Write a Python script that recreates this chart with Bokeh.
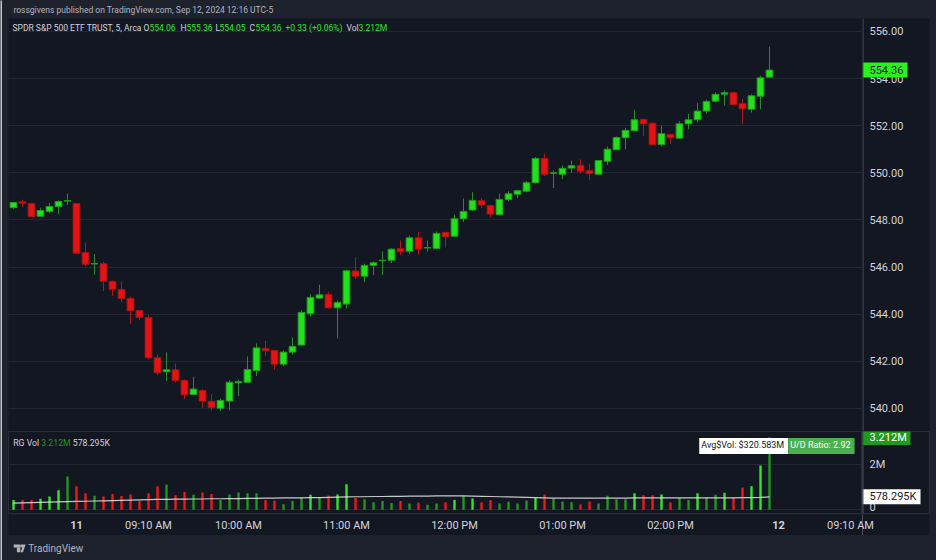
from bokeh.plotting import figure
from bokeh.models import ColumnDataSource, Range1d, FixedTicker, Label, Grid, Span
from bokeh.layouts import column, row
from bokeh.core.properties import value
from bokeh.embed import file_html
from bokeh.resources import INLINE

# ---------------- data (SPY, 5-minute bars) ----------------
opens = [548.52, 548.77, 548.70, 548.16, 548.36, 548.57, 548.80,
         548.70, 546.61, 546.13, 546.14, 545.39, 545.05, 544.67, 544.15, 543.86, 542.15,
         541.56, 541.64, 541.19, 540.59, 540.76, 540.30, 540.01, 540.31, 541.09, 541.11,
         541.61, 542.55, 542.46, 541.88, 542.39, 542.69, 544.02, 544.68, 544.84, 544.27,
         544.43, 545.83, 545.61, 546.07, 546.27, 546.29, 546.78, 546.67, 547.24, 546.81,
         546.79, 547.47, 547.31, 548.05, 548.42, 548.81, 548.61, 548.22, 548.87, 549.09,
         549.22, 549.58, 550.61, 549.98, 549.94, 550.20, 550.31, 550.09, 549.94, 550.49,
         550.98, 551.49, 551.79, 552.26, 552.10, 551.20, 551.63, 551.47, 552.08, 552.25,
         552.62, 553.04, 553.34, 553.40, 552.93, 552.70, 553.25, 554.06]
highs = [548.76, 548.86, 548.72, 548.52, 548.73, 548.83, 549.12,
         548.72, 547.04, 546.55, 546.22, 545.43, 545.39, 544.75, 544.19, 543.96, 542.29,
         542.38, 541.91, 541.23, 541.34, 540.83, 540.62, 540.41, 541.19, 541.23, 542.21,
         542.76, 542.87, 542.48, 542.46, 543.01, 544.16, 544.84, 545.25, 544.95, 544.58,
         545.89, 546.42, 546.14, 546.24, 546.66, 546.80, 547.13, 547.34, 547.48, 547.13,
         547.51, 547.50, 548.23, 548.91, 549.18, 548.92, 548.61, 549.11, 549.22, 549.25,
         549.65, 550.67, 550.81, 550.10, 550.31, 550.52, 550.57, 550.38, 550.54, 551.12,
         551.54, 551.91, 552.68, 552.31, 552.15, 552.00, 551.65, 552.19, 552.51, 552.97,
         553.11, 553.41, 553.50, 553.42, 553.14, 553.33, 554.12, 555.36]
lows = [548.46, 548.54, 548.12, 548.14, 548.29, 548.25, 548.63,
        546.55, 546.04, 545.67, 544.98, 544.78, 544.50, 543.58, 543.75, 542.09, 541.41,
        541.16, 541.10, 540.41, 540.57, 540.03, 539.91, 539.91, 539.91, 540.52, 541.09,
        541.37, 542.22, 541.64, 541.80, 542.29, 542.66, 543.90, 544.66, 544.24, 542.97,
        544.24, 545.49, 545.35, 545.66, 545.66, 546.17, 546.51, 546.55, 546.51, 546.66,
        546.75, 546.83, 547.28, 547.91, 548.39, 548.52, 548.11, 548.19, 548.80, 548.92,
        549.17, 549.54, 549.86, 549.35, 549.73, 550.00, 549.96, 549.68, 549.92, 550.33,
        550.96, 550.99, 551.77, 551.57, 551.16, 551.13, 551.22, 551.45, 551.85, 552.14,
        552.52, 552.99, 552.85, 552.88, 552.07, 552.56, 552.69, 554.05]
closes = [548.74, 548.71, 548.15, 548.40, 548.57, 548.78, 548.82,
          546.59, 546.12, 546.15, 545.40, 545.06, 544.67, 544.15, 543.87, 542.15, 541.51,
          541.64, 541.19, 540.58, 540.82, 540.31, 540.04, 540.34, 541.11, 541.14, 541.65,
          542.57, 542.45, 541.88, 542.39, 542.63, 544.07, 544.71, 544.82, 544.27, 544.50,
          545.84, 545.61, 546.07, 546.18, 546.29, 546.76, 546.65, 547.24, 546.76, 546.83,
          547.43, 547.29, 548.05, 548.36, 548.83, 548.63, 548.25, 548.87, 549.11, 549.24,
          549.58, 550.61, 549.94, 550.00, 550.19, 550.30, 550.07, 549.97, 550.52, 551.00,
          551.50, 551.80, 552.25, 552.08, 551.19, 551.66, 551.49, 552.08, 552.25, 552.62,
          553.03, 553.33, 553.40, 552.90, 552.72, 553.27, 554.03, 554.36]
volumes_m = [0.44, 0.43, 0.44, 0.49, 0.59, 0.87, 1.48,
             1.05, 0.74, 0.62, 0.59, 0.70, 0.61, 0.68, 0.40, 0.73, 1.05,
             1.11, 0.65, 0.79, 0.67, 0.77, 0.70, 0.43, 0.68, 0.77, 0.74,
             0.73, 0.43, 0.41, 0.25, 0.39, 0.53, 0.67, 0.55, 0.64, 0.68,
             1.14, 0.52, 0.47, 0.34, 0.39, 0.30, 0.39, 0.28, 0.31, 0.22,
             0.28, 0.33, 0.43, 0.62, 0.50, 0.33, 0.44, 0.28, 0.36, 0.28,
             0.41, 0.52, 0.68, 0.50, 0.37, 0.33, 0.24, 0.37, 0.28, 0.62,
             0.47, 0.47, 0.73, 0.65, 0.65, 0.68, 0.33, 0.52, 0.43, 0.73,
             0.53, 0.67, 0.76, 0.55, 0.99, 1.05, 1.97, 3.212]
# u = rising green, g = green, d = red
volume_kind = ["u", "d", "d", "u", "u", "u", "g",
               "d", "d", "g", "d", "d", "d", "d", "d", "d", "d",
               "g", "d", "d", "g", "d", "d", "g", "g", "g", "g",
               "g", "d", "d", "g", "g", "g", "u", "g", "d", "u",
               "u", "d", "g", "g", "g", "g", "d", "g", "d", "g",
               "g", "d", "u", "g", "u", "d", "d", "g", "g", "g",
               "g", "u", "d", "g", "g", "g", "d", "d", "g", "g",
               "g", "g", "u", "d", "d", "u", "d", "g", "g", "u",
               "g", "g", "u", "d", "d", "u", "u", "g"]
volume_avg_m = [0.30, 0.31, 0.32, 0.33, 0.34, 0.35, 0.36, 0.37, 0.38, 0.39,
                0.40, 0.41, 0.42, 0.43, 0.44, 0.45, 0.46, 0.46, 0.47, 0.47,
                0.48, 0.48, 0.49, 0.49, 0.50, 0.50, 0.51, 0.51, 0.52, 0.52,
                0.53, 0.53, 0.53, 0.54, 0.54, 0.55, 0.56, 0.57, 0.58, 0.58,
                0.59, 0.59, 0.60, 0.60, 0.61, 0.61, 0.61, 0.62, 0.62, 0.62,
                0.62, 0.61, 0.60, 0.59, 0.58, 0.57, 0.56, 0.55, 0.54, 0.53,
                0.52, 0.52, 0.52, 0.52, 0.52, 0.52, 0.52, 0.52, 0.52, 0.53,
                0.53, 0.53, 0.53, 0.53, 0.53, 0.53, 0.53, 0.53, 0.53, 0.53,
                0.53, 0.54, 0.54, 0.55, 0.578]

price_ticks = [540, 542, 544, 546, 548, 550, 552, 554, 556]
price_tick_labels = ["540.00", "542.00", "544.00", "546.00", "548.00",
                     "550.00", "552.00", "554.00", "556.00"]
vol_ticks = [0, 2]
vol_tick_labels = ["0", "2M"]
# bar index 0 = 08:30 (UTC-5) on Sep 11
time_ticks = [0, 8, 18, 30, 42, 54, 66, 78, 86]
time_tick_labels = ["11", "09:10 AM", "10:00 AM", "11:00 AM", "12:00 PM",
                    "01:00 PM", "02:00 PM", "12", "09:10 AM"]
day_ticks = [0, 78]

header_text = "rossgivens published on TradingView.com, Sep 12, 2024 12:16 UTC-5"
symbol_text = "SPDR S&P 500 ETF TRUST, 5, Arca"
avg_dollar_vol_text = "Avg$Vol: $320.583M"
ud_ratio_text = "U/D Ratio: 2.92"
vol_avg_text = "578.295K"
change_text = "+0.33 (+0.06%)"

# ---------------- styling ----------------
BG = "#131722"
OUTER = "#1e222d"
GRID = "#232733"
SEP = "#2a2e39"
AXIS = "#50535e"
TXT = "#d1d4dc"
UP = "#24e01c"
UP_EDGE = "#1c9c1c"
UP_WICK = "#2a8a2a"
DN = "#e51414"
DN_EDGE = "#b01212"
DN_WICK = "#a81a1a"
VOL_COL = {"u": "#33e82a", "g": "#1f9a1f", "d": "#f01818"}
LEGEND_GREEN = "#2ee62e"
TAG_GREEN = "#2af21c"
VOL_TAG = "#1f9a1f"
FONT = "Roboto"

n = len(opens)
xs = list(range(-7, n - 7))
is_up = [c >= o for o, c in zip(opens, closes)]
src = ColumnDataSource(dict(
    x=xs, open=opens, high=highs, low=lows, close=closes,
    top=[max(o, c) for o, c in zip(opens, closes)],
    bottom=[min(o, c) for o, c in zip(opens, closes)],
    body=[UP if u else DN for u in is_up],
    edge=[UP_EDGE if u else DN_EDGE for u in is_up],
    wick=[UP_WICK if u else DN_WICK for u in is_up],
    vol=volumes_m,
    vcol=[VOL_COL[k] for k in volume_kind],
    ma=volume_avg_m,
))

EDGE_W = 2        # light window edge on the far left
MAIN_W = 860      # includes 6px outer border on the left -> frame from x=8 to x=862
STRIP_W = 74      # price-scale area (67) + 7px outer border
FULL_W = 936 - EDGE_W
xr = Range1d(-7.556, 87.333)
price_range = Range1d(539.02, 556.55)
vol_range = Range1d(-0.209, 3.48)


def make_fig(width, height, x_range, y_range, left=0, right=0, bg=BG, border=OUTER):
    f = figure(width=width, height=height, x_range=x_range, y_range=y_range,
               output_backend="svg", toolbar_location=None, title=None,
               x_axis_location=None, y_axis_location=None,
               min_border_left=left, min_border_right=right,
               min_border_top=0, min_border_bottom=0)
    f.grid.grid_line_color = None
    f.background_fill_color = bg
    f.border_fill_color = border
    f.outline_line_color = None
    return f


def txt(f, xs_, ys_, texts, color=TXT, size="11px", align="left", style="normal", dy=0):
    f.text(x=xs_, y=ys_, text=texts, text_font=value(FONT), text_font_size=size,
           text_color=color, text_align=align, text_baseline="middle",
           text_font_style=style, y_offset=dy)


# ---------------- left window edge ----------------
edge = make_fig(EDGE_W, 560, Range1d(0, 1), Range1d(0, 1), bg="#c9cacd", border="#c9cacd")

# ---------------- header ----------------
hdr = make_fig(FULL_W, 18, Range1d(EDGE_W, 936), Range1d(0, 18), bg=OUTER)
txt(hdr, [7], [8.5], [header_text], color="#b2b5be", size="8.5px")

# ---------------- price pane ----------------
p = make_fig(MAIN_W, 413, xr, price_range, left=6)
p.add_layout(Grid(dimension=1, ticker=FixedTicker(ticks=price_ticks), grid_line_color=GRID))
p.segment(x0="x", y0="high", x1="x", y1="low", line_color="wick", line_width=1, source=src)
p.vbar(x="x", width=0.75, top="top", bottom="bottom", fill_color="body",
       line_color="edge", line_width=1, source=src)

leg_y = 404
legend_parts = [
    (4, symbol_text, TXT),
    (135, "O", TXT), (141, f"{opens[-1]:.2f}", LEGEND_GREEN),
    (172, "H", TXT), (178, f"{highs[-1]:.2f}", LEGEND_GREEN),
    (207, "L", TXT), (211, f"{lows[-1]:.2f}", LEGEND_GREEN),
    (241, "C", TXT), (247, f"{closes[-1]:.2f}", LEGEND_GREEN),
    (277, change_text, LEGEND_GREEN),
    (338, "Vol", TXT), (350, f"{volumes_m[-1]:.3f}M", LEGEND_GREEN),
]
for lx, t, c in legend_parts:
    p.add_layout(Label(x=lx, y=leg_y, x_units="screen", y_units="screen", text=t,
                       text_font=FONT, text_font_size="8.5px", text_color=c,
                       text_baseline="middle"))

# price scale strip
ps = make_fig(STRIP_W, 413, Range1d(0, 67), price_range, right=7)
txt(ps, [7] * len(price_ticks), price_ticks, price_tick_labels)
ps.rect(x=[22.5], y=[closes[-1]], width=45, height=15, height_units="screen",
        fill_color=TAG_GREEN, line_color=None)
txt(ps, [7], [closes[-1]], [f"{closes[-1]:.2f}"], color="#131722")
ps.add_layout(Span(location=0.5, dimension="height", line_color=AXIS, line_width=1))

# ---------------- volume pane ----------------
v = make_fig(MAIN_W, 83, xr, vol_range, left=6)
v.outline_line_color = SEP
v.add_layout(Grid(dimension=1, ticker=FixedTicker(ticks=vol_ticks), grid_line_color=GRID))
v.vbar(x="x", width=0.26, top="vol", bottom=0, fill_color="vcol", line_color=None, source=src)
v.line(x="x", y="ma", line_color="#e8e8e8", line_alpha=0.85, line_width=1.2, source=src)

vleg_y = 72
for lx, t, c in [(4.7, "RG Vol", TXT), (32.7, f"{volumes_m[-1]:.3f}M", VOL_TAG),
                 (64.3, vol_avg_text, TXT)]:
    v.add_layout(Label(x=lx, y=vleg_y, x_units="screen", y_units="screen", text=t,
                       text_font=FONT, text_font_size="8.7px", text_color=c,
                       text_baseline="middle"))

# info boxes, anchored at their common edge
v.add_layout(Label(x=779.7, y=68.5, x_units="screen", y_units="screen",
                   text=avg_dollar_vol_text, text_font=FONT, text_font_size="9px",
                   text_color="#131722", text_align="right", text_baseline="middle",
                   background_fill_color="#ffffff", padding=(2, 4, 2, 4)))
v.add_layout(Label(x=779.7, y=68.5, x_units="screen", y_units="screen",
                   text=ud_ratio_text, text_font=FONT, text_font_size="9px",
                   text_color="#ffffff", text_align="left", text_baseline="middle",
                   background_fill_color="#4caf50", padding=(2, 4, 2, 4)))

# volume scale strip
vs = make_fig(STRIP_W, 83, Range1d(0, 67), vol_range, right=7)
vs.outline_line_color = SEP
txt(vs, [7], [vol_ticks[1]], [vol_tick_labels[1]])
txt(vs, [7], [vol_ticks[0]], [vol_tick_labels[0]], dy=-2.5)
vs.rect(x=[24], y=[volumes_m[-1]], width=48, height=15, height_units="screen",
        fill_color=VOL_TAG, line_color=None)
txt(vs, [7], [volumes_m[-1]], [f"{volumes_m[-1]:.3f}M"], color="#ffffff")
vs.rect(x=[29], y=[volume_avg_m[-1]], width=58, height=15, height_units="screen",
        fill_color="#ffffff", line_color=None)
txt(vs, [7], [volume_avg_m[-1]], [vol_avg_text], color="#131722")
vs.add_layout(Span(location=0.5, dimension="height", line_color=AXIS, line_width=1))

# ---------------- time scale strip (full width, same bar scale) ----------------
ts = make_fig(FULL_W, 21, Range1d(-7.556, 94.778), Range1d(0, 21), left=6, right=7)
ts.segment(x0=[87.333], y0=[0], x1=[87.333], y1=[21], line_color=AXIS, line_width=1)
norm = [(t, l) for t, l in zip(time_ticks, time_tick_labels) if t not in day_ticks]
bold = [(t, l) for t, l in zip(time_ticks, time_tick_labels) if t in day_ticks]
txt(ts, [t for t, _ in norm], [10.5] * len(norm), [l for _, l in norm], align="center")
txt(ts, [t for t, _ in bold], [10.5] * len(bold), [l for _, l in bold], align="center",
    style="bold")

# ---------------- footer ----------------
ftr = make_fig(FULL_W, 25, Range1d(EDGE_W, 936), Range1d(0, 25), bg=OUTER)
logo_col = "#b2b5be"
ftr.quad(left=[7.3, 10.5], right=[14, 14], top=[16, 13], bottom=[13, 8.3],
         fill_color=logo_col, line_color=None)
ftr.scatter(x=[15.6], y=[14.6], size=3.2, fill_color=logo_col, line_color=None)
ftr.patch(x=[17, 19.3, 16.6, 14.3], y=[16, 16, 8.3, 8.3], fill_color=logo_col, line_color=None)
txt(ftr, [22], [12], ["TradingView"], color=logo_col, size="10px")

main = column(
    hdr,
    row(p, ps, spacing=0),
    row(v, vs, spacing=0),
    ts,
    ftr,
    spacing=0,
)
layout = row(edge, main, spacing=0)
html = file_html(layout, INLINE, title="SPY 5m")
html = html.replace("</head>", "<style>body{background:#1e222d;}</style></head>", 1)
open("out.html", "w").write(html)
